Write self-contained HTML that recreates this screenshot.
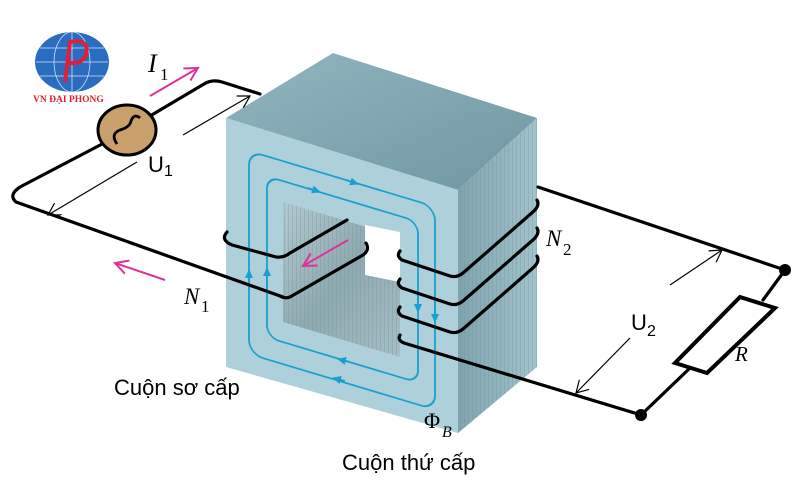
<!DOCTYPE html>
<html><head><meta charset="utf-8"><style>
html,body{margin:0;padding:0;background:#fff;}
svg{display:block;}
.sans{font-family:"Liberation Sans",sans-serif;}
.ser{font-family:"Liberation Serif",serif;}
.it{font-style:italic;}
</style></head><body>
<svg width="800" height="500" viewBox="0 0 800 500" xmlns="http://www.w3.org/2000/svg">
<defs>
<linearGradient id="top" x1="0" y1="0" x2="1" y2="1"><stop offset="0" stop-color="#92b6c0"/><stop offset="1" stop-color="#7097a2"/></linearGradient>
<linearGradient id="right" x1="0" y1="0" x2="1" y2="0"><stop offset="0" stop-color="#7fa3ad"/><stop offset="1" stop-color="#a2c3cc"/></linearGradient>
<linearGradient id="hole" x1="0" y1="0" x2="1" y2="1"><stop offset="0" stop-color="#b4c9cf"/><stop offset="0.5" stop-color="#8fa9b1"/><stop offset="1" stop-color="#a6bec5"/></linearGradient>
<pattern id="vs" width="4" height="10" patternUnits="userSpaceOnUse"><rect width="1" height="10" fill="#6f949e" opacity="0.35"/></pattern>
<marker id="ah" markerWidth="14" markerHeight="14" refX="12" refY="7" orient="auto" markerUnits="userSpaceOnUse"><path d="M0,0 L12,7 L0,14" fill="none" stroke="#000" stroke-width="1.2"/></marker>
<marker id="mh" markerWidth="16" markerHeight="16" refX="13" refY="8" orient="auto" markerUnits="userSpaceOnUse"><path d="M0,1 L13,8 L0,15" fill="none" stroke="#e0309a" stroke-width="2"/></marker>
<marker id="fh" markerWidth="10" markerHeight="10" refX="8" refY="5" orient="auto" markerUnits="userSpaceOnUse"><path d="M0,1 L9,5 L0,9 Z" fill="#1aa0d0"/></marker>
</defs>

<!-- logo -->
<ellipse cx="72" cy="62" rx="37" ry="30" fill="#2a6cc0"/>
<g stroke="#fff" stroke-width="0.8" fill="none" opacity="0.8">
<ellipse cx="72" cy="62" rx="18" ry="30"/><line x1="72" y1="32" x2="72" y2="92"/>
<line x1="36" y1="62" x2="108" y2="62"/><line x1="40" y1="48" x2="104" y2="48"/><line x1="40" y1="76" x2="104" y2="76"/>
</g>
<path d="M65,82 L70,42 Q90,38 86,55 Q80,66 66,62" fill="none" stroke="#e0203a" stroke-width="4"/>
<text x="33" y="102" class="ser" font-size="9.5" font-weight="bold" fill="#e02030">VN ĐẠI PHONG</text>

<!-- core -->
<polygon points="226,118 333,53 537,118 458,190" fill="url(#top)"/>
<polygon points="458,190 537,118 537,367 458,433" fill="url(#right)"/>
<polygon points="458,190 537,118 537,367 458,433" fill="url(#vs)"/>
<polygon points="226,118 458,190 458,433 226,367" fill="#add0da"/>
<polygon points="283,202 400,237 400,357 283,322" fill="url(#hole)"/>
<polygon points="283,202 400,237 400,357 283,322" fill="url(#vs)"/>
<polygon points="365,225 400,232 400,282 365,275" fill="#fff"/>

<!-- flux loops -->
<g transform="translate(226,118) skewY(16.7)" fill="none" stroke="#1aa0d0" stroke-width="1.8">
<rect x="23" y="26" width="186" height="203" rx="14"/>
<rect x="41" y="46" width="151" height="161" rx="12"/>
</g>
<g stroke="#1aa0d0" stroke-width="1.8" fill="none">
<line x1="249" y1="290" x2="249" y2="270" marker-end="url(#fh)"/>
<line x1="267" y1="290" x2="267" y2="268" marker-end="url(#fh)"/>
<line x1="435" y1="300" x2="435" y2="322" marker-end="url(#fh)"/>
<line x1="418" y1="292" x2="418" y2="312" marker-end="url(#fh)"/>
<line x1="308" y1="188" x2="320" y2="192" marker-end="url(#fh)"/>
<line x1="346" y1="180" x2="358" y2="184" marker-end="url(#fh)"/>
<line x1="350" y1="362" x2="338" y2="359" marker-end="url(#fh)"/>
<line x1="345" y1="381" x2="333" y2="378" marker-end="url(#fh)"/>
</g>

<!-- primary circuit -->
<g fill="none" stroke="#000" stroke-width="3.2" stroke-linecap="round" stroke-linejoin="round">
<path d="M260,94 L222,82 Q212,79 204,84 L150,116"/>
<path d="M104,143 L20,187 Q8,195 16,202 L283,297"/>
<path d="M227,232 Q220,240 232,245 L276,257 Q284,258 290,253 L347,220"/>
<path d="M366,243 Q370,250 363,255 L290,297 Q285,299 280,296"/>
</g>
<ellipse cx="127" cy="130" rx="29" ry="25" fill="#c9a06c" stroke="#000" stroke-width="3"/>
<path d="M117,144 Q110,134 120,130 Q130,127 131,121 Q134,113 140,118" fill="none" stroke="#000" stroke-width="2.8"/>

<!-- secondary coil -->
<g fill="none" stroke="#000" stroke-width="3.2" stroke-linecap="round" stroke-linejoin="round">
<path d="M538,187 L785,270"/>
<path d="M400,251 Q396,256 402,260 L450,276 Q457,278 463,273 L534,211 Q540,205 537,200"/>
<path d="M400,279 Q396,284 402,288 L450,304 Q457,306 463,301 L534,239 Q540,233 537,228"/>
<path d="M400,307 Q396,312 402,316 L450,332 Q457,334 463,329 L534,267 Q540,261 537,256"/>
<path d="M400,335 Q397,340 404,343 L641,415"/>
<path d="M785,270 L763,300"/>
<path d="M641,415 L690,368"/>
</g>
<circle cx="785" cy="270" r="6" fill="#000"/>
<circle cx="641" cy="415" r="6" fill="#000"/>
<polygon points="740,297 775,308 707,373 675,363" fill="#fff" stroke="#000" stroke-width="4"/>

<!-- dimension arrows -->
<g stroke="#000" stroke-width="1.2" fill="none">
<line x1="183" y1="135" x2="250" y2="96" marker-end="url(#ah)"/>
<line x1="137" y1="162" x2="48" y2="215" marker-end="url(#ah)"/>
<line x1="670" y1="285" x2="722" y2="250" marker-end="url(#ah)"/>
<line x1="630" y1="338" x2="576" y2="393" marker-end="url(#ah)"/>
</g>
<g stroke="#e0309a" stroke-width="2" fill="none">
<line x1="150" y1="96" x2="198" y2="68" marker-end="url(#mh)"/>
<line x1="165" y1="280" x2="115" y2="263" marker-end="url(#mh)"/>
<line x1="348" y1="240" x2="303" y2="266" marker-end="url(#mh)"/>
</g>

<!-- labels -->
<text class="ser it" x="148" y="72" font-size="26">I</text><text class="ser" x="160" y="80" font-size="17">1</text>
<text class="sans" x="148" y="172" font-size="22">U</text><text class="sans" x="164" y="176" font-size="16">1</text>
<text class="ser it" x="184" y="304" font-size="23">N</text><text class="ser" x="201" y="312" font-size="17">1</text>
<text class="ser it" x="546" y="246" font-size="23">N</text><text class="ser" x="563" y="255" font-size="17">2</text>
<text class="sans" x="631" y="330" font-size="22">U</text><text class="sans" x="647" y="336" font-size="16">2</text>
<text class="ser it" x="735" y="361" font-size="21">R</text>
<text class="ser" x="424" y="428" font-size="22">Φ</text><text class="ser it" x="442" y="437" font-size="16">B</text>
<text class="sans" x="114" y="395" font-size="22">Cuộn sơ cấp</text>
<text class="sans" x="342" y="470" font-size="22">Cuộn thứ cấp</text>
</svg>
</body></html>
